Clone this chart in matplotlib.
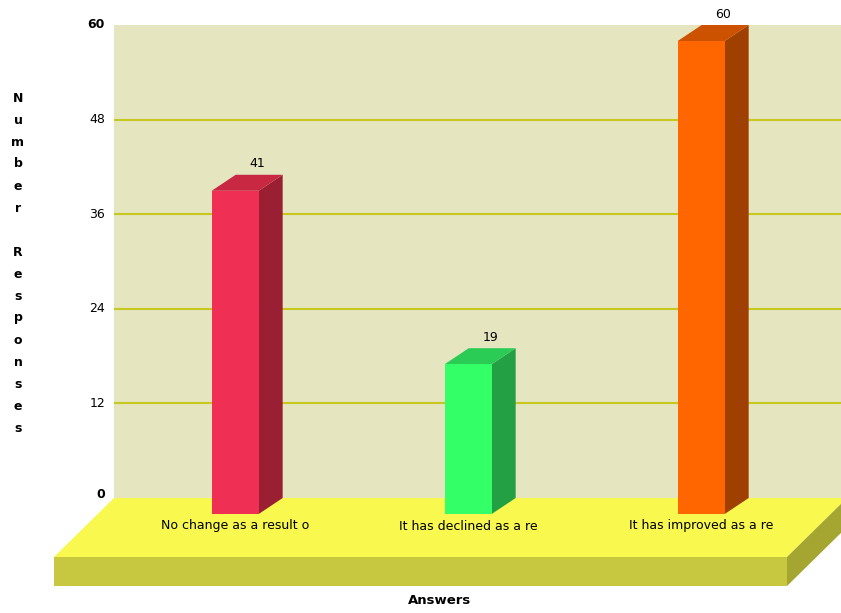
import matplotlib.pyplot as plt
from matplotlib.patches import Polygon

answers = ["No change as a result o", "It has declined as a re", "It has improved as a re"]
responses = [41, 19, 60]
ticks = [0, 12, 24, 36, 48, 60]

front_cols = ["#ef3054", "#33ff66", "#ff6600"]
top_cols = ["#c82842", "#2bcc55", "#cc5200"]
side_cols = ["#9a1f33", "#23a043", "#a04000"]

W, H = 841, 613
fig = plt.figure(figsize=(W / 100, H / 100), dpi=100)
fig.patch.set_facecolor("white")

# wall area in pixels
L, R, T, B = 114, 841, 25, 498
ax = fig.add_axes([L / W, 1 - B / H, (R - L) / W, (B - T) / H])
ax.set_ylim(0, 60)
ax.set_xlim(-0.52, 2.6)
ax.set_facecolor("#e5e5c0")
for s in ax.spines.values():
    s.set_visible(False)
ax.set_xticks([])
ax.set_yticks([])

# px -> data unit factors
ux = (ax.get_xlim()[1] - ax.get_xlim()[0]) / (R - L)
uy = 60 / (B - T)

for t in ticks[1:-1]:
    ax.axhline(t, color="#c8c81e", lw=1.5, zorder=1)

# floor
x0, x1 = ax.get_xlim()
fdx, fdy, fth = 60 * ux, 59 * uy, 29 * uy
x1f = x0 + (847 - L) * ux
floor_top = [(x0, 0), (x1f, 0), (x1f - fdx, -fdy), (x0 - fdx, -fdy)]
floor_front = [(x0 - fdx, -fdy), (x1f - fdx, -fdy), (x1f - fdx, -fdy - fth), (x0 - fdx, -fdy - fth)]
floor_side = [(x1f - fdx, -fdy), (x1f, 0), (x1f, -fth), (x1f - fdx, -fdy - fth)]
for pts, c in [(floor_top, "#f8f84e"), (floor_front, "#c8c840"), (floor_side, "#a5a532")]:
    ax.add_patch(Polygon(pts, closed=True, fc=c, ec="none", clip_on=False, zorder=2))

# bars
bw = 47 * ux
bdx, bdy = 24 * ux, 16 * uy
for i, (v, fc, tc, sc) in enumerate(zip(responses, front_cols, top_cols, side_cols)):
    xl, xr = i - bw / 2, i + bw / 2
    front = [(xl, -bdy), (xr, -bdy), (xr, v - bdy), (xl, v - bdy)]
    top = [(xl, v - bdy), (xr, v - bdy), (xr + bdx, v), (xl + bdx, v)]
    side = [(xr, -bdy), (xr + bdx, 0), (xr + bdx, v), (xr, v - bdy)]
    for pts, c in [(side, sc), (top, tc), (front, fc)]:
        ax.add_patch(Polygon(pts, closed=True, fc=c, ec="none", clip_on=False, zorder=3))
    ax.text(i + bdx - 2 * ux, v + 11 * uy, str(v), ha="center", va="center", fontsize=9,
            clip_on=False, zorder=4)
    ax.text(i, -28 * uy, answers[i], ha="center", va="center", fontsize=9,
            clip_on=False, zorder=4)

# y tick labels
for t in ticks:
    bold = t in (0, 60)
    ax.text(x0 - 9 * ux, t + 4 * uy if t == 0 else t, str(t), ha="right", va="center",
            fontsize=9, fontweight="bold" if bold else "normal", clip_on=False)

# stacked y-axis title
title = "Number Responses"
for k, ch in enumerate(title):
    if ch == " ":
        continue
    fig.text(18 / W, 1 - (98 + k * 22) / H, ch, ha="center", va="center",
             fontsize=9, fontweight="bold")

fig.text(440 / W, 1 - 601 / H, "Answers", ha="center", va="center",
         fontsize=9.5, fontweight="bold")

fig.savefig("out.png", dpi=100)
